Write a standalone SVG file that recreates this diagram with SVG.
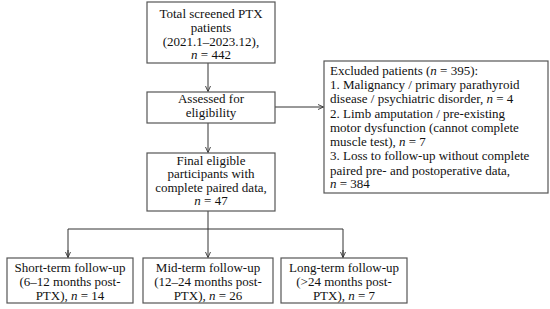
<svg xmlns="http://www.w3.org/2000/svg" width="550" height="309" viewBox="0 0 550 309">
<defs>
<marker id="ah" markerWidth="8" markerHeight="8" refX="6" refY="3" orient="auto" markerUnits="userSpaceOnUse">
<path d="M0.5,0.5 L6,3 L0.5,5.5" fill="none" stroke="#333" stroke-width="0.9"/>
</marker>
<style>
.box{fill:#fff;stroke:#555;stroke-width:1.2}
.t{font-family:"Liberation Serif","Times New Roman",serif;font-size:13px;fill:#111}
.c{text-anchor:middle}
.ln{fill:none;stroke:#333;stroke-width:1}
.i{font-style:italic}
</style>
</defs>
<rect width="550" height="309" fill="#fff"/>
<g id="connectors">
<line class="ln" x1="208" y1="63" x2="208" y2="91.5" marker-end="url(#ah)"/>
<line class="ln" x1="275" y1="107" x2="323.5" y2="107" marker-end="url(#ah)"/>
<line class="ln" x1="208" y1="123" x2="208" y2="152.5" marker-end="url(#ah)"/>
<line class="ln" x1="208" y1="211" x2="208" y2="257.5" marker-end="url(#ah)"/>
<polyline class="ln" points="68,257.5 68,229 343,229 343,257.5"/>
<line class="ln" x1="68" y1="250" x2="68" y2="257.5" marker-end="url(#ah)"/>
<line class="ln" x1="343" y1="250" x2="343" y2="257.5" marker-end="url(#ah)"/>
</g>
<g id="total">
<rect class="box" x="147" y="2" width="128" height="61"/>
<text class="t c" x="211" y="18">Total screened PTX</text>
<text class="t c" x="211" y="31.5">patients</text>
<text class="t c" x="211" y="45.5">(2021.1–2023.12),</text>
<text class="t c" x="211" y="59"><tspan class="i">n</tspan> = 442</text>
</g>
<g id="assessed">
<rect class="box" x="147" y="92" width="128" height="31"/>
<text class="t c" x="211" y="103">Assessed for</text>
<text class="t c" x="211" y="117">eligibility</text>
</g>
<g id="excluded">
<rect class="box" x="324" y="61" width="224" height="132"/>
<text class="t" x="330" y="75">Excluded patients (<tspan class="i">n</tspan> = 395):</text>
<text class="t" x="330" y="89">1. Malignancy / primary parathyroid</text>
<text class="t" x="330" y="103">disease / psychiatric disorder, <tspan class="i">n</tspan> = 4</text>
<text class="t" x="330" y="117.5">2. Limb amputation / pre-existing</text>
<text class="t" x="330" y="131.5">motor dysfunction (cannot complete</text>
<text class="t" x="330" y="146">muscle test), <tspan class="i">n</tspan> = 7</text>
<text class="t" x="330" y="160">3. Loss to follow-up without complete</text>
<text class="t" x="330" y="174.5">paired pre- and postoperative data,</text>
<text class="t" x="330" y="188"><tspan class="i">n</tspan> = 384</text>
</g>
<g id="final">
<rect class="box" x="147" y="153" width="128" height="58"/>
<text class="t c" x="211" y="164.5">Final eligible</text>
<text class="t c" x="211" y="178">participants with</text>
<text class="t c" x="211" y="191.5">complete paired data,</text>
<text class="t c" x="211" y="205"><tspan class="i">n</tspan> = 47</text>
</g>
<g id="short">
<rect class="box" x="7" y="258" width="126" height="45"/>
<text class="t c" x="70" y="272">Short-term follow-up</text>
<text class="t c" x="70" y="286">(6–12 months post-</text>
<text class="t c" x="70" y="300">PTX), <tspan class="i">n</tspan> = 14</text>
</g>
<g id="mid">
<rect class="box" x="143" y="258" width="130" height="45"/>
<text class="t c" x="208" y="272">Mid-term follow-up</text>
<text class="t c" x="208" y="286">(12–24 months post-</text>
<text class="t c" x="208" y="300">PTX), <tspan class="i">n</tspan> = 26</text>
</g>
<g id="long">
<rect class="box" x="281" y="258" width="126" height="45"/>
<text class="t c" x="344" y="272">Long-term follow-up</text>
<text class="t c" x="344" y="286">(&gt;24 months post-</text>
<text class="t c" x="344" y="300">PTX), <tspan class="i">n</tspan> = 7</text>
</g>
</svg>
